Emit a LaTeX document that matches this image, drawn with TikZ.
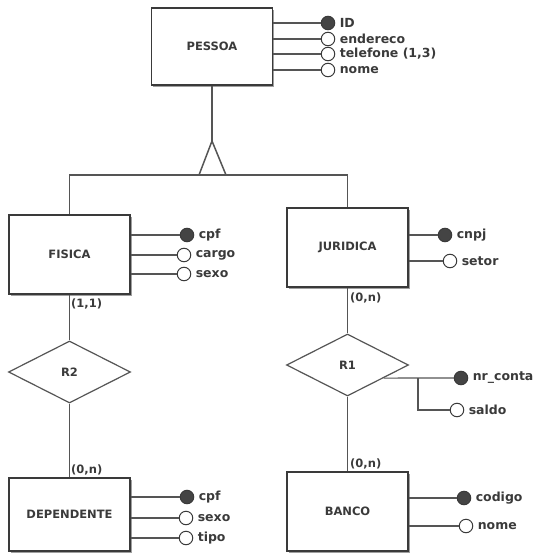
\documentclass[tikz,border=0pt]{standalone}
\usepackage{fontspec}
\setmainfont{DejaVu Sans}
\usetikzlibrary{shapes.geometric,shadows}
\definecolor{ink}{HTML}{3A3A3A}
\definecolor{wire}{HTML}{555555}
\begin{document}
\begin{tikzpicture}[x=1pt,y=-1pt,
  font=\bfseries\fontsize{11.5}{13}\selectfont,
  wire/.style={draw=wire,line width=1.2pt},
  entity/.style={draw=ink,fill=white,line width=1.3pt,minimum width=121pt,text=ink,
    drop shadow={shadow xshift=1.6pt,shadow yshift=-1.6pt,fill=gray!75,opacity=1}},
  relation/.style={diamond,draw=wire,fill=white,line width=1.2pt,inner sep=0pt,text=ink,
    minimum width=122pt,minimum height=62pt},
  attr/.style={circle,draw=ink,fill=white,line width=1pt,inner sep=0pt,minimum size=13.5pt,
    label={[label distance=1pt,text=ink,font=\bfseries\fontsize{12.5}{14}\selectfont]right:#1}},
  keyattr/.style={attr=#1,fill=ink!95},
  card/.style={text=ink,inner sep=0pt,anchor=west,font=\bfseries\fontsize{11.5}{13}\selectfont}]
  \useasboundingbox (0,0) rectangle (537,554);

  % entities
  \node[entity,minimum height=77pt] (pessoa) at (212,46.5) {PESSOA};
  \node[entity,minimum height=79pt] (fisica) at (69.5,254.5) {FISICA};
  \node[entity,minimum height=79pt] (juridica) at (347.5,247.5) {JURIDICA};
  \node[entity,minimum height=73pt] (dependente) at (69.5,514.5) {DEPENDENTE};
  \node[entity,minimum height=79pt] (banco) at (347.5,511.5) {BANCO};

  % relationships
  \node[relation] (r2) at (69.5,372) {R2};
  \node[relation] (r1) at (347.5,365) {R1};

  % specialization triangle
  \coordinate (apex) at (212,141);
  \coordinate (isa) at (212,175);
  \draw[wire] (pessoa.south) -- (apex);
  \draw[wire,line width=1.5pt,line join=miter] (apex) -- (199,175) -- (226,175) -- cycle;
  \draw[wire] (fisica.north) |- (isa) -| (juridica.north);

  % connectors between entities and relationships
  \draw[wire] (fisica) -- (r2) -- (dependente);
  \draw[wire] (juridica) -- (r1) -- (banco);

  % cardinalities
  \node[card] (c11) at (71,304) {(1,1)};
  \node[card] (c0n1) at (350,298) {(0,n)};
  \node[card] (c0n2) at (71,470) {(0,n)};
  \node[card] (c0n3) at (350,464) {(0,n)};

  % PESSOA attributes
  \node[keyattr=ID] (p1) at (328,23) {};
  \node[attr=endereco] (p2) at (328,39) {};
  \node[attr={telefone (1,3)}] (p3) at (328,54) {};
  \node[attr=nome] (p4) at (328,70) {};
  \foreach \a in {p1,p2,p3,p4} \draw[wire] (pessoa.east |- \a) -- (\a);

  % FISICA attributes
  \node[keyattr=cpf] (f1) at (187,235) {};
  \node[attr=cargo] (f2) at (184,255) {};
  \node[attr=sexo] (f3) at (184,274) {};
  \foreach \a in {f1,f2,f3} \draw[wire] (fisica.east |- \a) -- (\a);

  % JURIDICA attributes
  \node[keyattr=cnpj] (j1) at (445,235) {};
  \node[attr=setor] (j2) at (450,261) {};
  \foreach \a in {j1,j2} \draw[wire] (juridica.east |- \a) -- (\a);

  % DEPENDENTE attributes
  \node[keyattr=cpf] (d1) at (187,497) {};
  \node[attr=sexo] (d2) at (186,518) {};
  \node[attr=tipo] (d3) at (186,538) {};
  \foreach \a in {d1,d2,d3} \draw[wire] (dependente.east |- \a) -- (\a);

  % BANCO attributes
  \node[keyattr=codigo] (b1) at (464,498) {};
  \node[attr=nome] (b2) at (466,526) {};
  \foreach \a in {b1,b2} \draw[wire] (banco.east |- \a) -- (\a);

  % R1 attributes
  \node[keyattr=nr\_conta] (n1) at (461,378) {};
  \node[attr=saldo] (n2) at (457,410) {};
  \coordinate (fork) at (418,378);
  \draw[wire] (r1.-20) -- (n1);
  \draw[wire] (fork) |- (n2);
\end{tikzpicture}
\end{document}
